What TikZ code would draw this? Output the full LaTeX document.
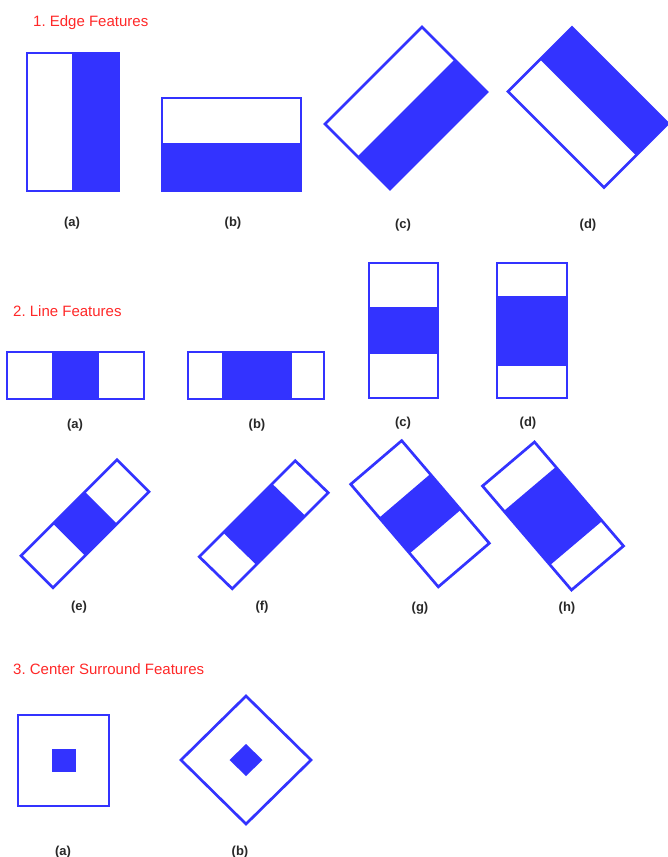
\documentclass[tikz,border=0pt]{standalone}
\usepackage{fontspec}
\setmainfont{Liberation Sans}
\frenchspacing
\definecolor{fblue}{RGB}{51,51,255}
\definecolor{tred}{RGB}{255,40,40}
\definecolor{labgray}{RGB}{40,40,40}
\tikzset{
  fb/.style={fblue, line width=2.7pt, line join=miter},
  ttl/.style={tred, anchor=base west, inner sep=0pt, font=\fontsize{15}{18}\selectfont},
  lab/.style={labgray, anchor=center, inner sep=0pt, font=\fontsize{13}{15}\selectfont\bfseries},
}
% #1 cx, #2 cy, #3 ux, #4 uy, #5 vx, #6 vy, #7 a1, #8 a2 (fill along u from a1 to a2)
\newcommand\featpoly[8]{%
  \fill[fblue] ({#1+(#7)*(#3)+(#5)},{#2+(#7)*(#4)+(#6)}) -- ({#1+(#8)*(#3)+(#5)},{#2+(#8)*(#4)+(#6)})
     -- ({#1+(#8)*(#3)-(#5)},{#2+(#8)*(#4)-(#6)}) -- ({#1+(#7)*(#3)-(#5)},{#2+(#7)*(#4)-(#6)}) -- cycle;
  \draw[fb] ({#1+(#3)+(#5)},{#2+(#4)+(#6)}) -- ({#1+(#3)-(#5)},{#2+(#4)-(#6)})
     -- ({#1-(#3)-(#5)},{#2-(#4)-(#6)}) -- ({#1-(#3)+(#5)},{#2-(#4)+(#6)}) -- cycle;
}
\begin{document}
\begin{tikzpicture}[x=1pt,y=-1pt]
\useasboundingbox[fill=white] (0,0) rectangle (668,857);

% ---------- 1. Edge features ----------
\node[ttl] (t1) at (33,26) {1. Edge Features};
% (a)
\fill[fblue] (72,53) rectangle (119,191);
\draw[fb] (27,53) rectangle (119,191);
% (b)
\fill[fblue] (162,143) rectangle (301,191);
\draw[fb] (162,98) rectangle (301,191);
% (c)
\featpoly{406}{108}{32.5}{32.5}{48.5}{-48.5}{0}{1}
% (d)
\featpoly{588}{107.5}{32}{-32}{48}{48}{0}{1}
\node[lab] (ea) at (72,223) {(a)};
\node[lab] (eb) at (233,223) {(b)};
\node[lab] (ec) at (403,225) {(c)};
\node[lab] (ed) at (588,225) {(d)};

% ---------- 2. Line features ----------
\node[ttl] (t2) at (13,316) {2. Line Features};
% (a)
\fill[fblue] (52,352) rectangle (99,399);
\draw[fb] (7,352) rectangle (144,399);
% (b)
\fill[fblue] (222,352) rectangle (292,399);
\draw[fb] (188,352) rectangle (324,399);
% (c)
\fill[fblue] (369,307) rectangle (438,354);
\draw[fb] (369,263) rectangle (438,398);
% (d)
\fill[fblue] (497,296) rectangle (567,366);
\draw[fb] (497,263) rectangle (567,398);
% (e)
\featpoly{85}{523.75}{48}{-48}{16}{16}{-0.333}{0.333}
% (f)
\featpoly{263.75}{524.75}{48}{-48}{16.5}{16}{-0.5}{0.52}
% (g)
\featpoly{420}{513.75}{43.8}{51.3}{25.5}{-21.8}{-0.348}{0.348}
% (h)
\featpoly{553}{516}{44.5}{52}{26}{-22}{-0.52}{0.52}
\node[lab] (la) at (75,425) {(a)};
\node[lab] (lb) at (257,425) {(b)};
\node[lab] (lc) at (403,423) {(c)};
\node[lab] (ld) at (528,423) {(d)};
\node[lab] (le) at (79,607) {(e)};
\node[lab] (lf) at (262,607) {(f)};
\node[lab] (lg) at (420,608) {(g)};
\node[lab] (lh) at (567,608) {(h)};

% ---------- 3. Center surround features ----------
\node[ttl] (t3) at (13,674) {3. Center Surround Features};
% (a)
\fill[fblue] (52,749) rectangle (76,772);
\draw[fb] (18,715) rectangle (109,806);
% (b)
\fill[fblue] (246,744) -- (262.5,760) -- (246,776) -- (229.5,760) -- cycle;
\draw[fb] (246,696) -- (311,760) -- (246,824) -- (181,760) -- cycle;
\node[lab] (ca) at (63,852) {(a)};
\node[lab] (cb) at (240,852) {(b)};
\end{tikzpicture}
\end{document}
